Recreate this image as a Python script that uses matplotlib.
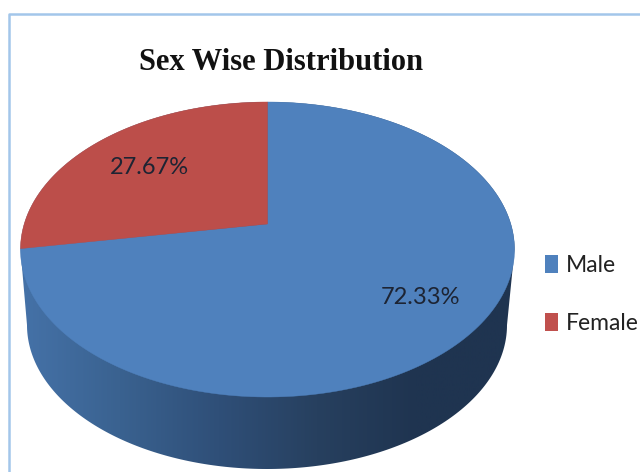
import matplotlib
matplotlib.use("Agg")
import matplotlib.pyplot as plt
import numpy as np
from matplotlib.colors import LinearSegmentedColormap
from matplotlib.patches import Patch, Polygon

labels = ["Male", "Female"]
shares = [72.33, 27.67]
colors = ["#4F81BD", "#BC4E4A"]
legend_colors = ["#4F81BD", "#C0504D"]
title = "Sex Wise Distribution"

NARROW = ["Lato", "DejaVu Sans"]
TEXT = "#1d2433"

# pie apex in pixels, plus the perspective squeeze of the tilted disc
CX, CY = 267.5, 224
A, B, C = 143.1, 243.3, 0.1729


def disc_point(theta):
    """theta clockwise from 12 o'clock -> pixel position on the tilted top face."""
    u, v = np.sin(theta), np.cos(theta)
    w = 1 + C * v
    return CX + B * u / w, CY - A * v / w


fig = plt.figure(figsize=(6.4, 4.72), dpi=100)
ax = fig.add_axes([0, 0, 1, 1])
ax.set_xlim(0, 640)
ax.set_ylim(472, 0)
ax.axis("off")

# chart frame, only top and left are inside the crop
ax.plot([9, 9, 640], [472, 14, 14], color="#A3C6EA", lw=1.8)

# side wall with its left-to-right shading
t = np.linspace(0, 2 * np.pi, 361)
top_x, top_y = disc_point(t)
low = np.linspace(np.pi / 2, 3 * np.pi / 2, 181)
low_x = 267 + 240 * np.sin(low)
low_y = 325 - 144 * np.cos(low)
left = np.argmin(top_x)
right = np.argmax(top_x)
upper = np.r_[left:361, 0:right + 1]
wall_x = np.r_[top_x[upper], low_x]
wall_y = np.r_[top_y[upper], low_y]
wall = Polygon(np.c_[wall_x, wall_y], closed=True, fc="none", ec="none")
ax.add_patch(wall)
shade = LinearSegmentedColormap.from_list(
    "wall", ["#4572A8", "#3A6290", "#2F4F78", "#27405F", "#1F3450", "#1F3450"])
img = ax.imshow(np.linspace(0, 1, 256)[None, :], cmap=shade, aspect="auto",
                extent=[20, 516, 472, 100], zorder=1)
img.set_clip_path(wall)
ax.set_xlim(0, 640)
ax.set_ylim(472, 0)

# top face
start = 0.0
for share, color in zip(shares, colors):
    sweep = share / sum(shares) * 2 * np.pi
    th = np.linspace(start, start + sweep, 200)
    x, y = disc_point(th)
    ax.fill(np.r_[CX, x], np.r_[CY, y], color=color, lw=0.3, zorder=2)
    start += sweep

ax.text(149, 167, f"{shares[1]:.2f}%", family=NARROW, fontsize=17, color=TEXT,
        ha="center", va="center", zorder=3)
ax.text(420, 297, f"{shares[0]:.2f}%", family=NARROW, fontsize=17, color=TEXT,
        ha="center", va="center", zorder=3)

ax.text(281, 63, title, family=["Liberation Serif", "DejaVu Serif"], fontweight="bold",
        fontsize=22, color="#111111", ha="center", va="center")

handles = [Patch(fc=c, ec="none") for c in legend_colors]
ax.legend(handles, labels, loc="upper left", bbox_to_anchor=(545 / 640, 1 - 255 / 472),
          frameon=False, prop={"family": NARROW, "size": 16.5}, handlelength=0.58,
          handleheight=0.8, handletextpad=0.35, labelspacing=1.61, borderpad=0,
          borderaxespad=0, labelcolor="#222222")

fig.savefig("out.png", dpi=100)
